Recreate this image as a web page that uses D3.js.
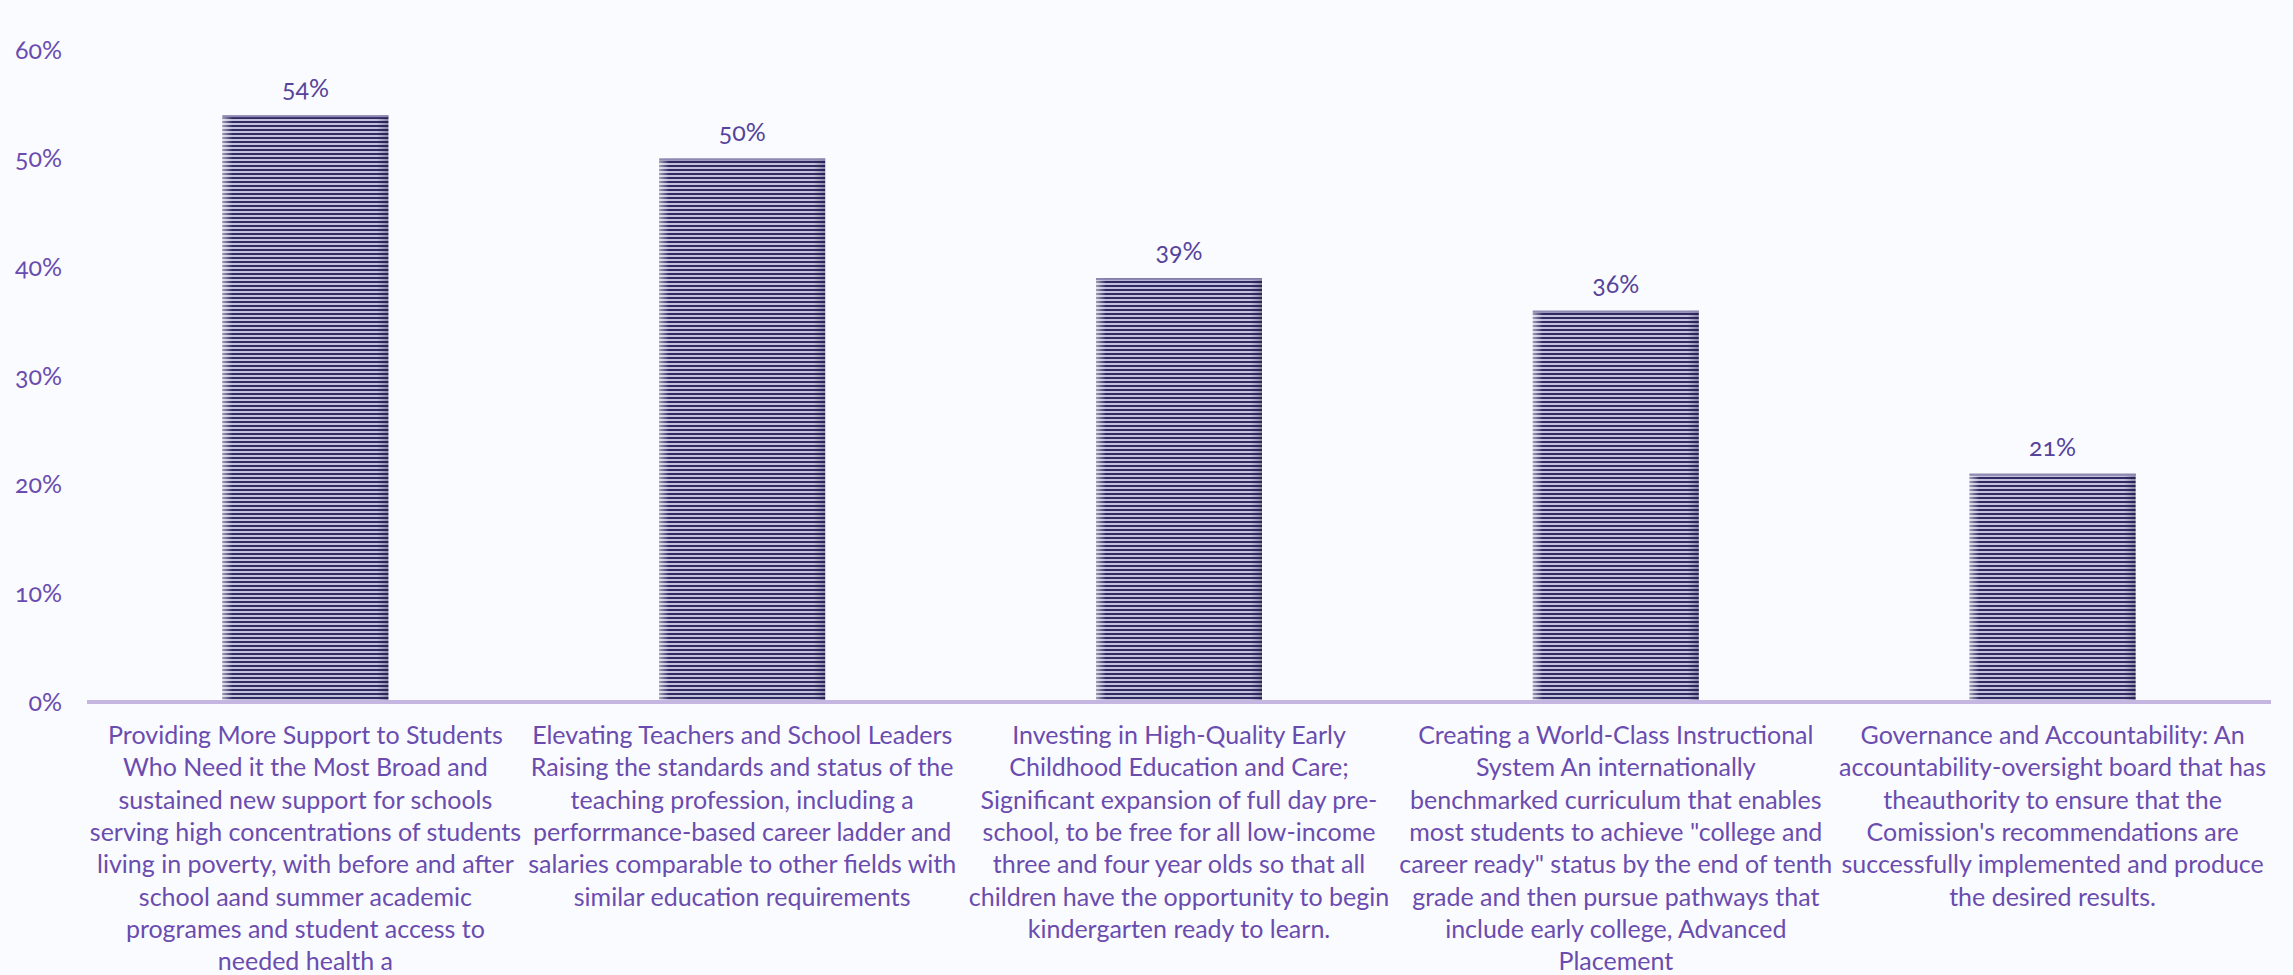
<!DOCTYPE html>
<html><head><meta charset="utf-8">
<script src="https://cdn.jsdelivr.net/npm/d3@7"></script>
<style>
  html,body{margin:0;padding:0;background:#fafbff;}
  svg{display:block;}
  text{font-family:"Lato",sans-serif;font-variant-numeric:oldstyle-nums;}
</style>
</head><body>
<svg id="chart" width="2293" height="975"></svg>
<script>
// Share of respondents for each recommendation
const values = [54, 50, 39, 36, 21];

// Category labels, one array of lines per bar
const categoryLines = [
  ["Providing More Support to Students", "Who Need it the Most Broad and", "sustained new support for schools",
   "serving high concentrations of students", "living in poverty, with before and after",
   "school aand summer academic", "programes and student access to", "needed health a"],
  ["Elevating Teachers and School Leaders", "Raising the standards and status of the",
   "teaching profession, including a", "perforrmance-based career ladder and",
   "salaries comparable to other fields with", "similar education requirements"],
  ["Investing in High-Quality Early", "Childhood Education and Care;", "Significant expansion of full day pre-",
   "school, to be free for all low-income", "three and four year olds so that all",
   "children have the opportunity to begin", "kindergarten ready to learn."],
  ["Creating a World-Class Instructional", "System An internationally", "benchmarked curriculum that enables",
   "most students to achieve \"college and", "career ready\" status by the end of tenth",
   "grade and then pursue pathways that", "include early college, Advanced", "Placement"],
  ["Governance and Accountability: An", "accountability-oversight board that has",
   "theauthority to ensure that the", "Comission's recommendations are",
   "successfully implemented and produce", "the desired results."]
];

const yTicks = [0, 10, 20, 30, 40, 50, 60];

const svg = d3.select("#chart");
const plotLeft = 87, plotRight = 2271, plotTop = 50, plotBottom = 702;

const x = d3.scaleBand()
  .domain(d3.range(values.length))
  .range([plotLeft, plotRight])
  .paddingInner(0.62)
  .paddingOuter(0.31);

const y = d3.scaleLinear().domain([0, 60]).range([plotBottom, plotTop]);

// Horizontal stripe fill for the bars
const defs = svg.append("defs");
const pat = defs.append("pattern")
  .attr("id", "stripes").attr("patternUnits", "userSpaceOnUse")
  .attr("width", 8).attr("height", 4).attr("y", 1);
pat.append("rect").attr("width", 8).attr("height", 4).attr("fill", "#c3bfdc");
pat.append("rect").attr("width", 8).attr("height", 2).attr("fill", "#2f2a61");

// Soft edge shading across each bar
const shade = defs.append("linearGradient").attr("id", "edge")
  .attr("x1", "0%").attr("x2", "100%").attr("y1", "0%").attr("y2", "0%");
[[0, "#ffffff", 0.55], [0.06, "#ffffff", 0], [0.93, "#1d1840", 0], [1, "#1d1840", 0.35]]
  .forEach(([o, c, a]) => shade.append("stop").attr("offset", o).attr("stop-color", c).attr("stop-opacity", a));

const bars = svg.append("g");
bars.selectAll("rect.bar").data(values).join("rect")
  .attr("class", "bar")
  .attr("x", (d, i) => x(i)).attr("width", x.bandwidth())
  .attr("y", d => y(d)).attr("height", d => y(0) - y(d))
  .attr("fill", "url(#stripes)");
bars.selectAll("rect.shade").data(values).join("rect")
  .attr("class", "shade")
  .attr("x", (d, i) => x(i)).attr("width", x.bandwidth())
  .attr("y", d => y(d)).attr("height", d => y(0) - y(d))
  .attr("fill", "url(#edge)");
bars.selectAll("rect.cap").data(values).join("rect")
  .attr("class", "cap")
  .attr("x", (d, i) => x(i)).attr("width", x.bandwidth())
  .attr("y", d => y(d)).attr("height", 2)
  .attr("fill", "#8d88b4");

// Value labels above the bars
svg.append("g").selectAll("text").data(values).join("text")
  .attr("x", (d, i) => x(i) + x.bandwidth() / 2)
  .attr("y", d => y(d) - 18)
  .attr("text-anchor", "middle")
  .attr("fill", "#55439c")
  .style("font-size", "25px")
  .text(d => d + "%");

// Y axis labels
const yAxis = d3.axisLeft(y).tickValues(yTicks).tickFormat(d => d + "%").tickSize(0).tickPadding(0);
const yg = svg.append("g").attr("transform", "translate(62,0)").call(yAxis);
yg.select(".domain").remove();
yg.selectAll("text")
  .attr("dy", "0.32em")
  .attr("fill", "#6a4caf")
  .style("font-size", "25px")
  .style("font-family", "Lato, sans-serif");

// Baseline
svg.append("line")
  .attr("x1", plotLeft).attr("x2", plotRight)
  .attr("y1", y(0)).attr("y2", y(0))
  .attr("stroke", "#c5b6e1").attr("stroke-width", 4);

// Category labels under the bars
const cats = svg.append("g").selectAll("text").data(categoryLines).join("text")
  .attr("text-anchor", "middle")
  .attr("fill", "#6a4caf")
  .style("font-size", "25px");
cats.each(function (lines, i) {
  const cx = x(i) + x.bandwidth() / 2;
  d3.select(this).selectAll("tspan").data(lines).join("tspan")
    .attr("x", cx)
    .attr("y", (l, j) => 744 + j * 32.3)
    .text(l => l);
});
</script>
</body></html>
